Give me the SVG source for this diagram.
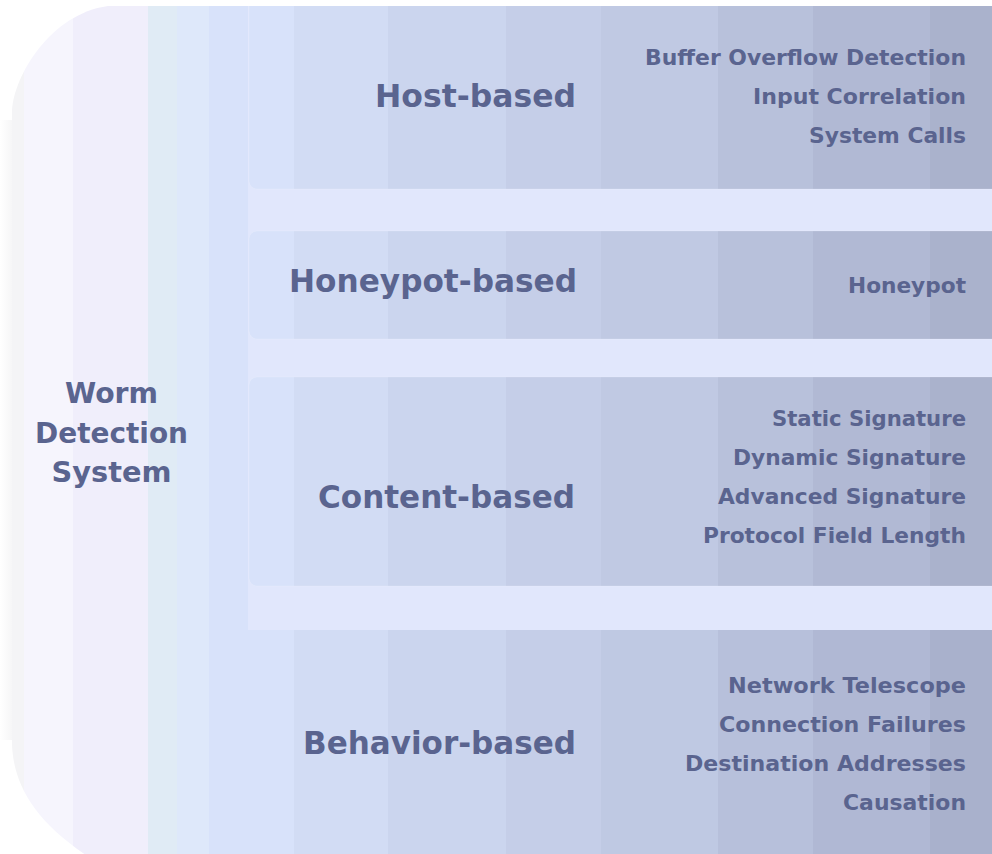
<svg xmlns="http://www.w3.org/2000/svg" xmlns:xlink="http://www.w3.org/1999/xlink" width="992" height="854" viewBox="0 0 992 854">
  <style>
    .big { font-family: "DejaVu Sans", "Liberation Sans", sans-serif; font-weight: bold; font-size: 32px; fill: #5a648f; text-anchor: end; }
    .root { font-family: "DejaVu Sans", "Liberation Sans", sans-serif; font-weight: bold; font-size: 28px; fill: #5a648f; text-anchor: middle; }
    .item { font-family: "DejaVu Sans", "Liberation Sans", sans-serif; font-weight: bold; font-size: 22px; fill: #5a648f; text-anchor: end; }
    .gap { fill: #e1e7fc; }
    .rowedge { fill: #ffffff; fill-opacity: 0.015; stroke: #ffffff; stroke-opacity: 0.15; stroke-width: 1; }
  </style>
  <defs>
    <clipPath id="outer">
      <path d="M12,110 C14,76 50,14 108,6 L992,6 L992,870 L110,870 C40,830 14,790 12,745 Z"/>
    </clipPath>
    <clipPath id="rows">
      <rect x="249" y="-4" width="760" height="193" rx="8"/>
      <rect x="249" y="231" width="760" height="108" rx="8"/>
      <rect x="249" y="377" width="760" height="209" rx="8"/>
      <rect x="240" y="630" width="770" height="240"/>
    </clipPath>
    <linearGradient id="fade" x1="0" y1="0" x2="1" y2="0">
      <stop offset="0" stop-color="#ffffff"/>
      <stop offset="1" stop-color="#f6f6f7"/>
    </linearGradient>
    <g id="stripes">
      <rect x="0" y="0" width="24" height="880" fill="#f4f4f6"/>
      <rect x="24" y="0" width="49" height="880" fill="#f6f5fd"/>
      <rect x="73" y="0" width="75" height="880" fill="#f0eefb"/>
      <rect x="148" y="0" width="29" height="880" fill="#e0ebf5"/>
      <rect x="177" y="0" width="32" height="880" fill="#dee8fa"/>
      <rect x="209" y="0" width="85" height="880" fill="#d8e2fa"/>
      <rect x="294" y="0" width="94" height="880" fill="#d2dcf4"/>
      <rect x="388" y="0" width="118" height="880" fill="#cbd5ee"/>
      <rect x="506" y="0" width="95" height="880" fill="#c5cee8"/>
      <rect x="601" y="0" width="117" height="880" fill="#bfc9e3"/>
      <rect x="718" y="0" width="95" height="880" fill="#b7c0db"/>
      <rect x="813" y="0" width="117" height="880" fill="#b0b8d4"/>
      <rect x="930" y="0" width="62" height="880" fill="#a9b1cc"/>
    </g>
  </defs>

  <g id="background">
    <rect x="0" y="120" width="12" height="620" fill="url(#fade)"/>
    <g clip-path="url(#outer)">
      <use xlink:href="#stripes" href="#stripes"/>
      <rect class="gap" x="248" y="6" width="744" height="624"/>
      <use xlink:href="#stripes" href="#stripes" clip-path="url(#rows)"/>
    </g>
  </g>

  <g id="connectors"/>

  <g id="root">
    <text class="root" x="111.5" y="403" textLength="93" lengthAdjust="spacingAndGlyphs">Worm</text>
    <text class="root" x="111.5" y="443" textLength="153" lengthAdjust="spacingAndGlyphs">Detection</text>
    <text class="root" x="111.5" y="482" textLength="120" lengthAdjust="spacingAndGlyphs">System</text>
  </g>

  <g clip-path="url(#outer)">
    <g id="host">
      <rect class="rowedge" x="249" y="-4" width="760" height="193" rx="8"/>
      <text class="big" x="576" y="107" textLength="201" lengthAdjust="spacingAndGlyphs">Host-based</text>
      <text class="item" x="966" y="65" textLength="321" lengthAdjust="spacingAndGlyphs">Buffer Overflow Detection</text>
      <text class="item" x="966" y="104" textLength="213" lengthAdjust="spacingAndGlyphs">Input Correlation</text>
      <text class="item" x="966" y="143" textLength="157" lengthAdjust="spacingAndGlyphs">System Calls</text>
    </g>

    <g id="honeypot">
      <rect class="rowedge" x="249" y="231" width="760" height="108" rx="8"/>
      <text class="big" x="577" y="292" textLength="288" lengthAdjust="spacingAndGlyphs">Honeypot-based</text>
      <text class="item" x="966" y="293" textLength="118" lengthAdjust="spacingAndGlyphs">Honeypot</text>
    </g>

    <g id="content">
      <rect class="rowedge" x="249" y="377" width="760" height="209" rx="8"/>
      <text class="big" x="575" y="508" textLength="257" lengthAdjust="spacingAndGlyphs">Content-based</text>
      <text class="item" x="966" y="426" textLength="194" lengthAdjust="spacingAndGlyphs">Static Signature</text>
      <text class="item" x="966" y="465" textLength="233" lengthAdjust="spacingAndGlyphs">Dynamic Signature</text>
      <text class="item" x="966" y="504" textLength="248" lengthAdjust="spacingAndGlyphs">Advanced Signature</text>
      <text class="item" x="966" y="543" textLength="263" lengthAdjust="spacingAndGlyphs">Protocol Field Length</text>
    </g>

    <g id="behavior">
      <text class="big" x="576" y="754" textLength="273" lengthAdjust="spacingAndGlyphs">Behavior-based</text>
      <text class="item" x="966" y="693" textLength="238" lengthAdjust="spacingAndGlyphs">Network Telescope</text>
      <text class="item" x="966" y="732" textLength="247" lengthAdjust="spacingAndGlyphs">Connection Failures</text>
      <text class="item" x="966" y="771" textLength="281" lengthAdjust="spacingAndGlyphs">Destination Addresses</text>
      <text class="item" x="966" y="810" textLength="123" lengthAdjust="spacingAndGlyphs">Causation</text>
    </g>
  </g>
</svg>
